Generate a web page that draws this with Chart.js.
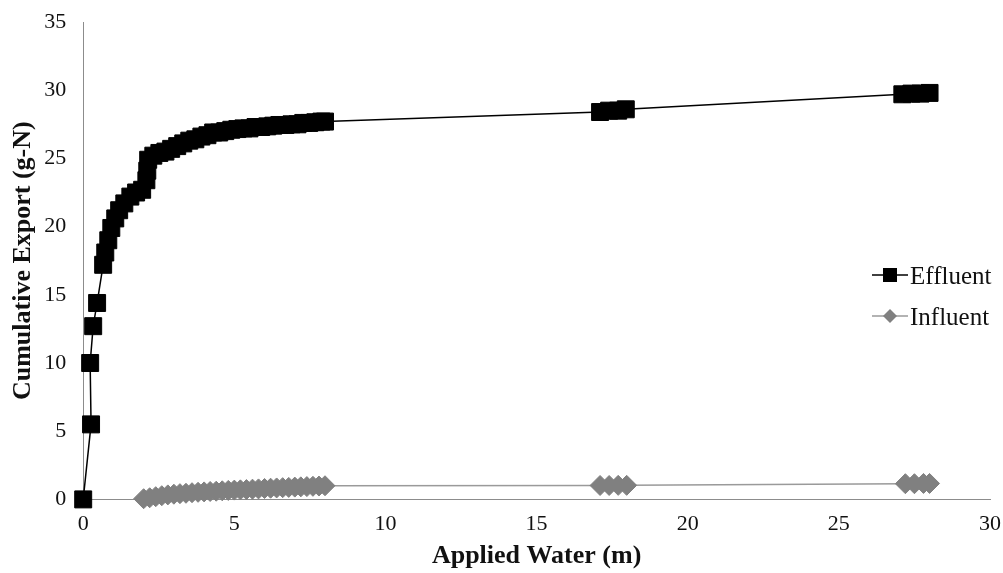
<!DOCTYPE html>
<html lang="en">
<head>
    <meta charset="UTF-8">
    <title>Cumulative Export</title>
    <script src="https://cdn.jsdelivr.net/npm/chart.js"></script>
    <style>
        body {
            margin: 0;
            background-color: #fff;
        }

        .chart-container {
            width: 1003px;
            height: 573px;
            position: relative;
        }
    </style>
</head>
<body>

    <div class="chart-container">
        <canvas id="exportChart"></canvas>
    </div>

    <script>
        // values
        const effluentX = [0, 0.26, 0.23, 0.33, 0.46, 0.66, 0.73, 0.83, 0.93, 1.06, 1.19, 1.36, 1.56, 1.75, 1.95,
            2.09, 2.12, 2.15, 2.32, 2.52, 2.72, 2.91, 3.11, 3.31, 3.51, 3.71, 3.91, 4.11, 4.3, 4.5, 4.7, 4.9,
            5.1, 5.3, 5.5, 5.7, 5.89, 6.09, 6.29, 6.49, 6.69, 6.89, 7.09, 7.28, 7.48, 7.68, 7.88, 8.0,
            17.1, 17.4, 17.7, 17.95, 27.1, 27.4, 27.7, 28.0];
        const effluentY = [0, 5.5, 10.0, 12.7, 14.4, 17.2, 18.1, 19.0, 19.9, 20.6, 21.2, 21.7, 22.2, 22.5, 22.7,
            23.4, 24.1, 24.9, 25.2, 25.4, 25.5, 25.7, 25.9, 26.1, 26.3, 26.4, 26.6, 26.7, 26.9, 26.9, 27.0, 27.1,
            27.15, 27.2, 27.2, 27.3, 27.3, 27.35, 27.4, 27.45, 27.45, 27.5, 27.5, 27.6, 27.6, 27.65, 27.7, 27.7,
            28.4, 28.5, 28.5, 28.6, 29.7, 29.75, 29.75, 29.8];

        const influentX = [2.0, 2.2, 2.4, 2.6, 2.8, 3.0, 3.2, 3.4, 3.6, 3.8, 4.0, 4.2, 4.4, 4.6, 4.8, 5.0,
            5.2, 5.4, 5.6, 5.8, 6.0, 6.2, 6.4, 6.6, 6.8, 7.0, 7.2, 7.4, 7.6, 7.8, 8.0,
            17.1, 17.4, 17.7, 17.98, 27.2, 27.5, 27.8, 28.0];
        const influentY = [0.05, 0.12, 0.2, 0.27, 0.33, 0.38, 0.42, 0.45, 0.49, 0.52, 0.55, 0.58, 0.6, 0.63, 0.66, 0.68,
            0.7, 0.72, 0.75, 0.77, 0.8, 0.82, 0.84, 0.86, 0.88, 0.9, 0.92, 0.94, 0.96, 0.98, 1.0,
            1.02, 1.02, 1.03, 1.03, 1.15, 1.15, 1.17, 1.17];

        const seriesNames = ['Effluent', 'Influent'];
        const xTitle = 'Applied Water (m)';
        const yTitle = 'Cumulative Export (g-N)';

        const toPoints = (xs, ys) => xs.map((x, i) => ({ x: x, y: ys[i] }));

        // legend drawn inside the plot, like the original
        const floatLegend = {
            id: 'floatLegend',
            afterDraw(chart) {
                const ctx = chart.ctx;
                const rows = [275, 316];
                ctx.save();
                chart.data.datasets.forEach((ds, i) => {
                    const y = rows[i];
                    ctx.strokeStyle = ds.borderColor;
                    ctx.lineWidth = 1.5;
                    ctx.beginPath();
                    ctx.moveTo(872, y);
                    ctx.lineTo(908, y);
                    ctx.stroke();
                    ctx.fillStyle = ds.pointBackgroundColor;
                    ctx.beginPath();
                    if (ds.pointStyle === 'rect') {
                        ctx.rect(883, y - 7, 14, 14);
                    } else {
                        ctx.moveTo(890 - 7, y);
                        ctx.lineTo(890, y - 7);
                        ctx.lineTo(890 + 7, y);
                        ctx.lineTo(890, y + 7);
                        ctx.closePath();
                    }
                    ctx.fill();
                    ctx.fillStyle = '#111';
                    ctx.font = '25px "Liberation Serif"';
                    ctx.textBaseline = 'middle';
                    ctx.textAlign = 'left';
                    ctx.fillText(ds.label, 910, y + 2);
                });
                ctx.restore();
            }
        };

        const ctx = document.getElementById('exportChart').getContext('2d');
        new Chart(ctx, {
            type: 'scatter',
            data: {
                datasets: [{
                    label: seriesNames[0],
                    data: toPoints(effluentX, effluentY),
                    showLine: true,
                    clip: false,
                    borderColor: '#000',
                    borderWidth: 1.5,
                    pointStyle: 'rect',
                    pointRadius: 12,
                    pointBorderWidth: 1,
                    pointBackgroundColor: '#000',
                    pointBorderColor: '#000'
                }, {
                    label: seriesNames[1],
                    data: toPoints(influentX, influentY),
                    showLine: true,
                    clip: false,
                    borderColor: '#9a9a9a',
                    borderWidth: 1.5,
                    pointStyle: 'rectRot',
                    pointRadius: 10,
                    pointBorderWidth: 1,
                    pointBackgroundColor: '#808080',
                    pointBorderColor: '#808080'
                }]
            },
            options: {
                responsive: true,
                maintainAspectRatio: false,
                animation: false,
                layout: {
                    autoPadding: false,
                    padding: { top: 22, right: 13, bottom: 0, left: 4 }
                },
                plugins: {
                    legend: { display: false },
                    tooltip: { enabled: false }
                },
                scales: {
                    x: {
                        type: 'linear',
                        min: 0,
                        max: 30,
                        ticks: {
                            stepSize: 5,
                            padding: 0,
                            color: '#111',
                            font: { family: 'Liberation Serif', size: 22 }
                        },
                        // hidden grid; tickLength only sets the label gap
                        grid: { display: false, tickLength: 12 },
                        border: { color: '#8c8c8c', width: 1 },
                        title: {
                            display: true,
                            text: xTitle,
                            color: '#111',
                            padding: { top: 3, bottom: 1 },
                            font: { family: 'Liberation Serif', size: 26, weight: 'bold' }
                        }
                    },
                    y: {
                        min: 0,
                        max: 35,
                        ticks: {
                            stepSize: 5,
                            padding: 0,
                            color: '#111',
                            font: { family: 'Liberation Serif', size: 22 }
                        },
                        grid: { display: false, tickLength: 17 },
                        border: { color: '#8c8c8c', width: 1 },
                        title: {
                            display: true,
                            text: yTitle,
                            color: '#111',
                            padding: { top: 4, bottom: 5 },
                            font: { family: 'Liberation Serif', size: 26, weight: 'bold' }
                        }
                    }
                }
            },
            plugins: [floatLegend]
        });
    </script>

</body>
</html>
